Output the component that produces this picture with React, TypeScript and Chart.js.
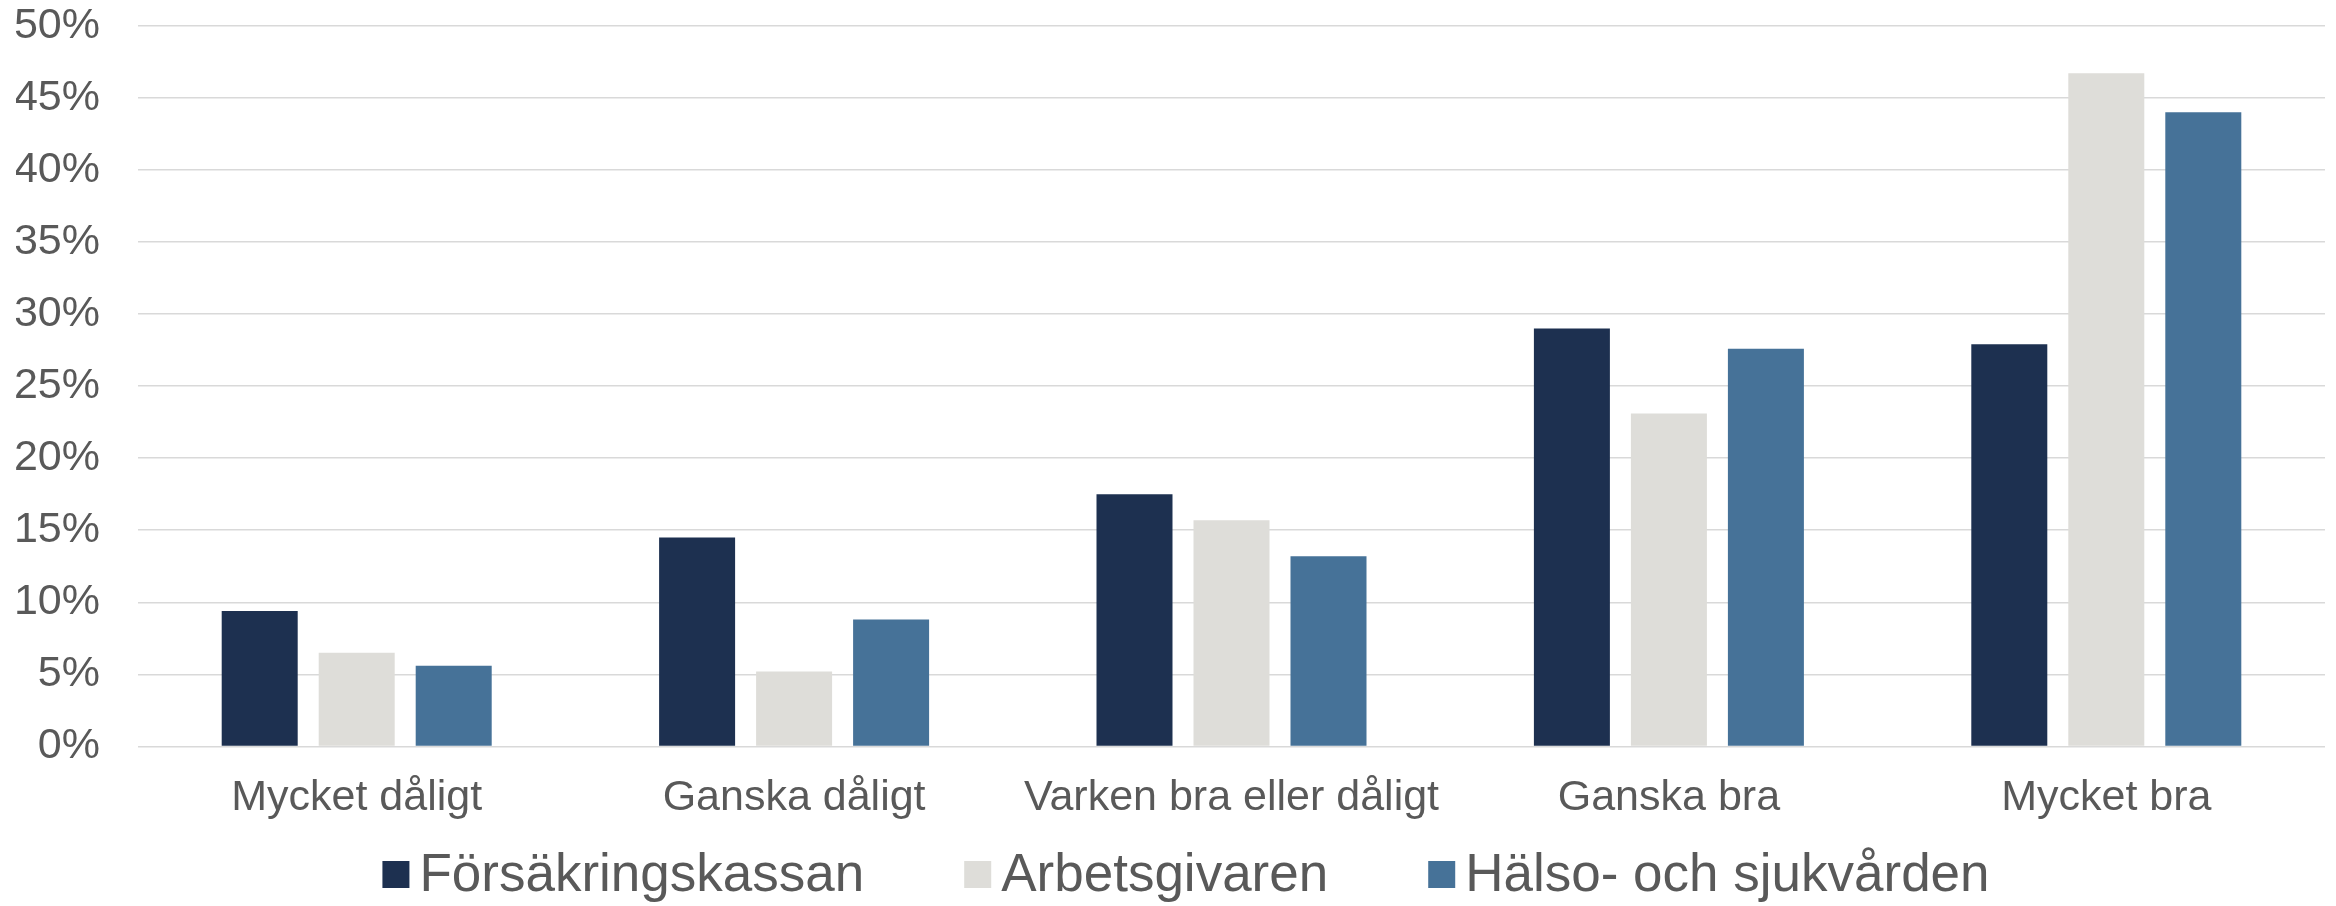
import React, { useEffect, useRef } from "react";
import { Chart, registerables } from "chart.js";

Chart.register(...registerables);

const categories = ["Mycket dåligt", "Ganska dåligt", "Varken bra eller dåligt", "Ganska bra", "Mycket bra"];
const seriesNames = ["Försäkringskassan", "Arbetsgivaren", "Hälso- och sjukvården"];
const forsakringskassan = [9.4, 14.5, 17.5, 29.0, 27.9];
const arbetsgivaren = [6.5, 5.2, 15.7, 23.1, 46.7];
const halsoOchSjukvarden = [5.6, 8.8, 13.2, 27.6, 44.0];
const seriesColors = ["#1D3050", "#DEDDD9", "#467298"];
const yMax = 50;
const yStep = 5;

const FONT = '"Liberation Sans", Arial, sans-serif';
const TEXT = "#595959";

const legendPlugin = {
  id: "customLegend",
  afterDraw(chart: any) {
    const ctx = chart.ctx as CanvasRenderingContext2D;
    const size = 53;
    const box = 27;
    const gapBoxText = 10;
    const itemGap = 100;
    ctx.save();
    ctx.font = `${size}px ${FONT}`;
    const items = chart.data.datasets.map((ds: any) => ({
      label: ds.label as string,
      color: ds.backgroundColor as string,
      w: ctx.measureText(ds.label).width,
    }));
    const total = items.reduce((s: number, it: any) => s + box + gapBoxText + it.w, 0) + itemGap * (items.length - 1);
    let x = 1186 - total / 2;
    const baseline = 891;
    const boxTop = 861;
    ctx.textBaseline = "alphabetic";
    ctx.textAlign = "left";
    items.forEach((it: any) => {
      ctx.fillStyle = it.color;
      ctx.fillRect(x, boxTop, box, box);
      ctx.fillStyle = TEXT;
      ctx.fillText(it.label, x + box + gapBoxText, baseline);
      x += box + gapBoxText + it.w + itemGap;
    });
    ctx.restore();
  },
};

export default function App() {
  const ref = useRef<HTMLCanvasElement | null>(null);
  useEffect(() => {
    document.body.style.margin = "0";
    const canvas = ref.current!;
    const values = [forsakringskassan, arbetsgivaren, halsoOchSjukvarden];
    const chart = new Chart(canvas, {
      type: "bar",
      data: {
        labels: categories,
        datasets: seriesNames.map((name, i) => ({
          label: name,
          data: values[i],
          backgroundColor: seriesColors[i],
          borderWidth: 0,
          categoryPercentage: 0.6653,
          barPercentage: 0.7835,
        })),
      },
      options: {
        responsive: false,
        animation: false,
        devicePixelRatio: 1,
        layout: { padding: { left: 16, right: 11, top: 25, bottom: 82 } },
        plugins: {
          legend: { display: false },
          tooltip: { enabled: false },
        },
        scales: {
          x: {
            grid: {
              display: true,
              drawOnChartArea: false,
              drawTicks: true,
              tickLength: 26,
              tickColor: "rgba(0,0,0,0)",
              color: "rgba(0,0,0,0)",
            },
            border: { display: false },
            ticks: {
              color: TEXT,
              font: { family: FONT, size: 43 },
              padding: 0,
              maxRotation: 0,
              autoSkip: false,
            },
          },
          y: {
            min: 0,
            max: yMax,
            afterFit: (scale: any) => {
              scale.width = 122;
            },
            grid: {
              color: "#D9D9D9",
              lineWidth: 1.5,
              drawTicks: true,
              tickLength: 38,
              tickColor: "rgba(0,0,0,0)",
            },
            border: { display: false },
            ticks: {
              stepSize: yStep,
              color: TEXT,
              font: { family: FONT, size: 43 },
              padding: 0,
              callback: (v: any) => `${v}%`,
            },
          },
        },
      },
      plugins: [legendPlugin],
    });
    return () => chart.destroy();
  }, []);
  return (
    <div style={{ width: 2336, height: 906, background: "#fff" }}>
      <canvas ref={ref} width={2336} height={906} style={{ display: "block" }} />
    </div>
  );
}
